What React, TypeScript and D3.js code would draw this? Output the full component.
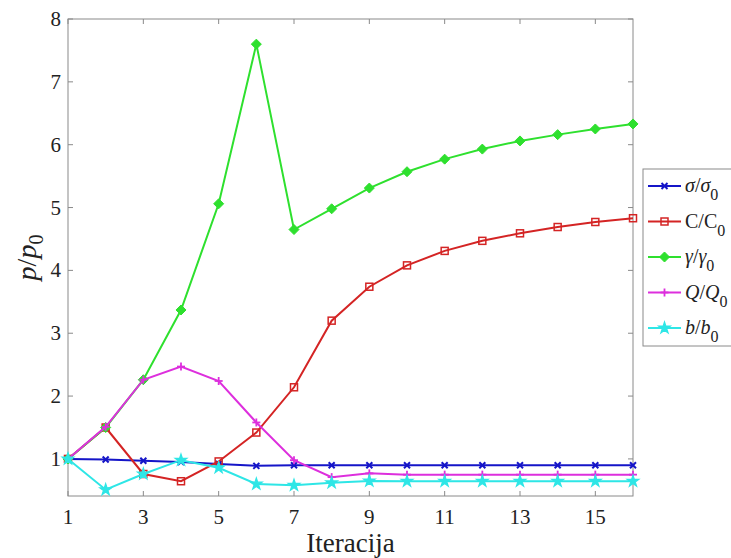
import React from "react";
import * as d3 from "d3";

const iterations = [1, 2, 3, 4, 5, 6, 7, 8, 9, 10, 11, 12, 13, 14, 15, 16];
const sigma = [1.0, 0.99, 0.97, 0.95, 0.92, 0.89, 0.9, 0.9, 0.9, 0.9, 0.9, 0.9, 0.9, 0.9, 0.9, 0.9];
const cohesion = [1.0, 1.5, 0.76, 0.645, 0.96, 1.42, 2.14, 3.2, 3.74, 4.08, 4.31, 4.47, 4.59, 4.69, 4.77, 4.83];
const gamma = [1.0, 1.5, 2.26, 3.37, 5.06, 7.6, 4.65, 4.98, 5.31, 5.57, 5.77, 5.93, 6.06, 6.16, 6.25, 6.33];
const qRatio = [1.0, 1.51, 2.26, 2.47, 2.24, 1.58, 0.98, 0.71, 0.77, 0.75, 0.75, 0.75, 0.75, 0.75, 0.75, 0.75];
const bRatio = [1.0, 0.51, 0.76, 0.98, 0.86, 0.6, 0.58, 0.62, 0.65, 0.645, 0.645, 0.645, 0.645, 0.645, 0.645, 0.645];
const xTicks = [1, 3, 5, 7, 9, 11, 13, 15];
const yTicks = [1, 2, 3, 4, 5, 6, 7, 8];

type Series = { key: string; num: string; den: string; sub: string; values: number[]; color: string; marker: string; italic: boolean };

const series: Series[] = [
  { key: "sigma", num: "σ", den: "σ", sub: "0", values: sigma, color: "#1515c8", marker: "x", italic: true },
  { key: "c", num: "C", den: "C", sub: "0", values: cohesion, color: "#d42424", marker: "square", italic: false },
  { key: "gamma", num: "γ", den: "γ", sub: "0", values: gamma, color: "#2ee02e", marker: "diamond", italic: true },
  { key: "q", num: "Q", den: "Q", sub: "0", values: qRatio, color: "#dd2fdd", marker: "plus", italic: true },
  { key: "b", num: "b", den: "b", sub: "0", values: bRatio, color: "#2ee6e6", marker: "star", italic: true },
];

const W = 731;
const H = 558;
const left = 68;
const right = 633;
const top = 19;
const bottom = 496;

const x = d3.scaleLinear().domain([1, 16]).range([left, right]);
const y = d3.scaleLinear().domain([0.41, 8]).range([bottom, top]);

const FONT = "Liberation Serif, Times New Roman, serif";

function Marker({ type, cx, cy, color }: { type: string; cx: number; cy: number; color: string }) {
  if (type === "x") {
    const s = 3;
    return (
      <g stroke={color} strokeWidth={2}>
        <line x1={cx - s} y1={cy - s} x2={cx + s} y2={cy + s} />
        <line x1={cx - s} y1={cy + s} x2={cx + s} y2={cy - s} />
      </g>
    );
  }
  if (type === "square") {
    return <rect x={cx - 3.5} y={cy - 3.5} width={7} height={7} fill="none" stroke={color} strokeWidth={1.5} />;
  }
  if (type === "diamond") {
    const s = 5;
    return <path d={`M${cx},${cy - s}L${cx + s},${cy}L${cx},${cy + s}L${cx - s},${cy}Z`} fill={color} stroke={color} strokeWidth={1} />;
  }
  if (type === "plus") {
    const s = 4;
    return (
      <g stroke={color} strokeWidth={1.8}>
        <line x1={cx - s} y1={cy} x2={cx + s} y2={cy} />
        <line x1={cx} y1={cy - s} x2={cx} y2={cy + s} />
      </g>
    );
  }
  const star = d3.symbol().type(d3.symbolStar).size(42)();
  return <path d={star || ""} transform={`translate(${cx},${cy})`} fill={color} stroke={color} strokeWidth={1.2} />;
}

export default function App() {
  const line = d3
    .line<number>()
    .x((_, i) => x(iterations[i]))
    .y((d) => y(d));
  const axisColor = "#8a8a8a";
  const legendX = 643;
  const legendTop = 169;
  const legendRow = 35.5;
  const txt = { fontFamily: FONT };

  return (
    <svg width={W} height={H} style={{ position: "absolute", left: 0, top: 0, background: "#fff" }}>
      <rect x={0} y={0} width={W} height={H} fill="#fff" />
      <rect x={left} y={top} width={right - left} height={bottom - top} fill="none" stroke={axisColor} strokeWidth={1} />
      {xTicks.map((t) => (
        <g key={"xt" + t}>
          <line x1={x(t)} x2={x(t)} y1={bottom} y2={bottom - 5} stroke={axisColor} />
          <line x1={x(t)} x2={x(t)} y1={top} y2={top + 5} stroke={axisColor} />
          <text x={x(t)} y={524} textAnchor="middle" fontSize={21} fill="#222" style={txt}>{t}</text>
        </g>
      ))}
      {yTicks.map((t) => (
        <g key={"yt" + t}>
          <line x1={left} x2={left + 5} y1={y(t)} y2={y(t)} stroke={axisColor} />
          <line x1={right} x2={right - 5} y1={y(t)} y2={y(t)} stroke={axisColor} />
          <text x={61} y={y(t) + 7} textAnchor="end" fontSize={21} fill="#222" style={txt}>{t}</text>
        </g>
      ))}
      <text x={(left + right) / 2} y={552} textAnchor="middle" fontSize={27} fill="#222" style={txt}>Iteracija</text>
      <text transform={`translate(36,${(top + bottom) / 2}) rotate(-90)`} textAnchor="middle" fontSize={28} fill="#222" style={txt}>
        <tspan fontStyle="italic">p</tspan>
        <tspan>/</tspan>
        <tspan fontStyle="italic">p</tspan>
        <tspan fontSize={20} dy={7}>0</tspan>
      </text>
      {series.map((s) => (
        <g key={s.key}>
          <path d={line(s.values) || ""} fill="none" stroke={s.color} strokeWidth={2} />
          {s.values.map((v, i) => (
            <Marker key={i} type={s.marker} cx={x(iterations[i])} cy={y(v)} color={s.color} />
          ))}
        </g>
      ))}
      <rect x={legendX} y={legendTop} width={W - legendX + 20} height={346 - legendTop} fill="#fff" stroke={axisColor} strokeWidth={1} />
      {series.map((s, i) => {
        const cy = 186 + i * legendRow;
        return (
          <g key={"lg" + s.key}>
            <line x1={648} x2={681} y1={cy} y2={cy} stroke={s.color} strokeWidth={2} />
            <Marker type={s.marker} cx={664.5} cy={cy} color={s.color} />
            <text x={685} y={cy + 6} fontSize={20} fill="#222" style={txt}>
              <tspan fontStyle={s.italic ? "italic" : "normal"}>{s.num}</tspan>
              <tspan>/</tspan>
              <tspan fontStyle={s.italic ? "italic" : "normal"}>{s.den}</tspan>
              <tspan fontSize={16} fontStyle="normal" dy={8}>{s.sub}</tspan>
            </text>
          </g>
        );
      })}
    </svg>
  );
}
